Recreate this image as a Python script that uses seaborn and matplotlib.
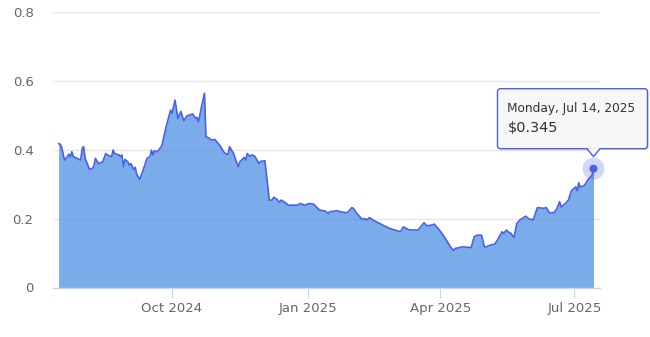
import matplotlib
matplotlib.use("Agg")
import matplotlib.pyplot as plt
import matplotlib.dates as mdates
from matplotlib.patches import FancyBboxPatch, Polygon, Circle
import numpy as np
import pandas as pd
import seaborn as sns

dates = [
    "2024-07-16", "2024-07-17", "2024-07-18", "2024-07-20", "2024-07-22", "2024-07-23",
    "2024-07-24", "2024-07-25", "2024-07-26", "2024-07-29", "2024-07-31", "2024-08-01",
    "2024-08-02", "2024-08-03", "2024-08-06", "2024-08-08", "2024-08-09", "2024-08-10",
    "2024-08-12", "2024-08-15", "2024-08-17", "2024-08-18", "2024-08-21", "2024-08-22",
    "2024-08-23", "2024-08-26", "2024-08-27", "2024-08-28", "2024-08-29", "2024-08-30",
    "2024-09-01", "2024-09-02", "2024-09-03", "2024-09-05", "2024-09-06", "2024-09-07",
    "2024-09-09", "2024-09-11", "2024-09-14", "2024-09-16", "2024-09-17", "2024-09-18",
    "2024-09-19", "2024-09-21", "2024-09-24", "2024-09-27", "2024-09-30", "2024-10-01",
    "2024-10-03", "2024-10-05", "2024-10-07", "2024-10-09", "2024-10-11", "2024-10-13",
    "2024-10-15", "2024-10-17", "2024-10-18", "2024-10-19", "2024-10-21", "2024-10-23",
    "2024-10-24", "2024-10-26", "2024-10-27", "2024-10-29", "2024-10-30", "2024-11-01",
    "2024-11-03", "2024-11-05", "2024-11-07", "2024-11-08", "2024-11-09", "2024-11-12",
    "2024-11-13", "2024-11-15", "2024-11-16", "2024-11-19", "2024-11-20", "2024-11-21",
    "2024-11-23", "2024-11-24", "2024-11-26", "2024-11-29", "2024-11-30", "2024-12-03",
    "2024-12-06", "2024-12-08", "2024-12-09", "2024-12-11", "2024-12-13", "2024-12-14",
    "2024-12-16", "2024-12-19", "2024-12-25", "2024-12-27", "2024-12-30", "2025-01-02",
    "2025-01-05", "2025-01-07", "2025-01-09", "2025-01-13", "2025-01-15", "2025-01-16",
    "2025-01-21", "2025-01-23", "2025-01-28", "2025-01-31", "2025-02-01", "2025-02-03",
    "2025-02-07", "2025-02-09", "2025-02-10", "2025-02-12", "2025-02-15", "2025-02-18",
    "2025-02-21", "2025-02-26", "2025-03-01", "2025-03-05", "2025-03-07", "2025-03-11",
    "2025-03-17", "2025-03-21", "2025-03-23", "2025-03-26", "2025-03-28", "2025-03-31",
    "2025-04-03", "2025-04-08", "2025-04-10", "2025-04-11", "2025-04-14", "2025-04-16",
    "2025-04-22", "2025-04-24", "2025-04-26", "2025-04-29", "2025-05-01", "2025-05-02",
    "2025-05-05", "2025-05-08", "2025-05-10", "2025-05-13", "2025-05-14", "2025-05-16",
    "2025-05-17", "2025-05-19", "2025-05-21", "2025-05-23", "2025-05-25", "2025-05-29",
    "2025-05-31", "2025-06-03", "2025-06-06", "2025-06-10", "2025-06-12", "2025-06-14",
    "2025-06-17", "2025-06-19", "2025-06-21", "2025-06-22", "2025-06-25", "2025-06-27",
    "2025-06-29", "2025-07-02", "2025-07-03", "2025-07-04", "2025-07-05", "2025-07-08",
    "2025-07-10", "2025-07-13", "2025-07-14",
]
prices = [
    0.418, 0.416, 0.409, 0.370, 0.380, 0.387,
    0.380, 0.394, 0.380, 0.374, 0.370, 0.404,
    0.409, 0.375, 0.343, 0.346, 0.353, 0.375,
    0.360, 0.365, 0.389, 0.385, 0.380, 0.399,
    0.389, 0.385, 0.380, 0.385, 0.351, 0.372,
    0.365, 0.355, 0.360, 0.343, 0.349, 0.329,
    0.314, 0.336, 0.375, 0.380, 0.399, 0.385,
    0.397, 0.394, 0.411, 0.467, 0.515, 0.506,
    0.544, 0.491, 0.511, 0.484, 0.498, 0.501,
    0.504, 0.491, 0.494, 0.481, 0.525, 0.564,
    0.438, 0.434, 0.430, 0.428, 0.430, 0.420,
    0.409, 0.394, 0.387, 0.387, 0.409, 0.387,
    0.372, 0.351, 0.365, 0.378, 0.370, 0.389,
    0.380, 0.385, 0.382, 0.360, 0.366, 0.368,
    0.254, 0.254, 0.262, 0.257, 0.247, 0.254,
    0.249, 0.239, 0.239, 0.244, 0.239, 0.244,
    0.242, 0.234, 0.225, 0.222, 0.215, 0.220,
    0.223, 0.220, 0.217, 0.232, 0.230, 0.217,
    0.198, 0.200, 0.196, 0.203, 0.194, 0.188,
    0.181, 0.171, 0.167, 0.162, 0.176, 0.167,
    0.167, 0.188, 0.179, 0.181, 0.184, 0.169,
    0.152, 0.118, 0.107, 0.113, 0.116, 0.118,
    0.116, 0.147, 0.152, 0.152, 0.118, 0.118,
    0.123, 0.126, 0.139, 0.162, 0.157, 0.167,
    0.162, 0.157, 0.145, 0.186, 0.196, 0.207,
    0.200, 0.196, 0.232, 0.230, 0.232, 0.217,
    0.217, 0.227, 0.249, 0.234, 0.244, 0.254,
    0.281, 0.292, 0.281, 0.304, 0.291, 0.297,
    0.312, 0.326, 0.345,
]

y_ticks = [0, 0.2, 0.4, 0.6, 0.8]
y_tick_labels = ["0", "0.2", "0.4", "0.6", "0.8"]
x_ticks = ["2024-10-01", "2025-01-01", "2025-04-01", "2025-07-01"]
x_tick_labels = ["Oct 2024", "Jan 2025", "Apr 2025", "Jul 2025"]
tooltip_date = "Monday, Jul 14, 2025"
tooltip_value = "$0.345"

LINE = "#4a60e8"
FILL = "#468ce1"
GRID = "#e6e6e6"
AXIS = "#ccd6eb"
LABEL = "#666666"

sns.set_theme(style="white")
plt.rcParams["font.family"] = ["DejaVu Sans"]

df = pd.DataFrame({"date": pd.to_datetime(dates), "price": prices})

fig = plt.figure(figsize=(6.5, 3.37), dpi=100)
ax = fig.add_axes([53 / 650, 49.5 / 337, 547 / 650, 275.5 / 337])

ax.fill_between(df["date"], 0, df["price"], color=FILL, alpha=0.72, linewidth=0, zorder=2)
sns.lineplot(data=df, x="date", y="price", ax=ax, color=LINE, linewidth=1.2, zorder=3)

ax.set_ylim(0, 0.8)
ax.set_xlim(pd.Timestamp("2024-07-12 05:00"), pd.Timestamp("2025-07-18 10:00"))
ax.set_yticks(y_ticks)
ax.set_yticklabels(y_tick_labels)
ax.set_xticks(pd.to_datetime(x_ticks))
ax.set_xticklabels(x_tick_labels)
ax.set_xlabel("")
ax.set_ylabel("")

ax.yaxis.grid(True, color=GRID, linewidth=1, zorder=1)
ax.xaxis.grid(False)
ax.set_axisbelow(True)
for s in ["top", "right", "left"]:
    ax.spines[s].set_visible(False)
ax.spines["bottom"].set_color(AXIS)
ax.spines["bottom"].set_linewidth(1)
ax.spines["bottom"].set_zorder(4)

ax.tick_params(axis="y", left=False, length=0, pad=14, labelsize=9.5, labelcolor=LABEL)
ax.tick_params(axis="x", bottom=True, length=7.2, width=0.8, color=AXIS, direction="out",
               pad=3, labelsize=9.5, labelcolor=LABEL)

# hover marker + tooltip on last point
fig.canvas.draw()
last_x = mdates.date2num(df["date"].iloc[-1])
last_y = df["price"].iloc[-1]
px, py = ax.transData.transform((last_x, last_y))

halo = Circle((px, py), 11, transform=None, facecolor="#4a60e8", alpha=0.25,
              edgecolor="none", zorder=6)
dot = Circle((px, py), 4, transform=None, facecolor=LINE, edgecolor="none", zorder=7)
fig.patches.extend([halo, dot])

bx0, bx1 = px - 96, px + 54
by0, by1 = py + 20, py + 80
shadow = FancyBboxPatch((bx0 + 1.5, by0 - 1.5), bx1 - bx0, by1 - by0,
                        boxstyle="round,pad=0,rounding_size=3", transform=None,
                        facecolor="black", alpha=0.08, edgecolor="none", zorder=8)
box = FancyBboxPatch((bx0, by0), bx1 - bx0, by1 - by0,
                     boxstyle="round,pad=0,rounding_size=3", transform=None,
                     facecolor="#f7f7f7", edgecolor=LINE, linewidth=1, zorder=9)
ptr = Polygon([(px - 7, by0 + 0.6), (px, py + 12), (px + 7, by0 + 0.6)], closed=False,
              transform=None, facecolor="#f7f7f7", edgecolor=LINE, linewidth=1, zorder=10)
fig.patches.extend([shadow, box, ptr])

fig.text((px - 86) / 650, (py + 60) / 337, tooltip_date, fontsize=8.7, color="#333333",
         va="center", ha="left", zorder=11)
fig.text((px - 86) / 650, (py + 41) / 337, tooltip_value, fontsize=10.4, color="#333333",
         va="center", ha="left", zorder=11)

fig.savefig("out.png", dpi=100)
